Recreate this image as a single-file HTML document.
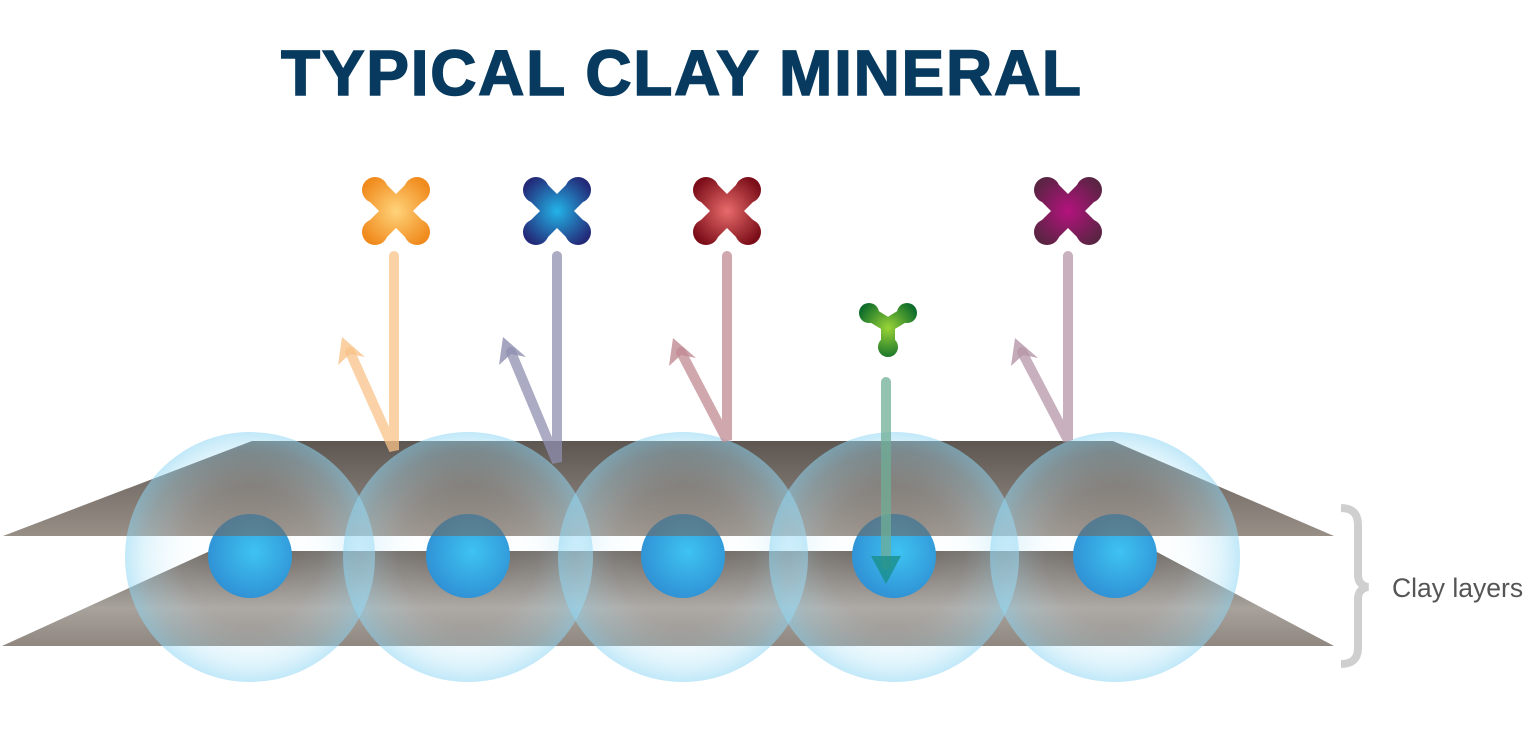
<!DOCTYPE html>
<html><head><meta charset="utf-8"><style>
html,body{margin:0;padding:0;background:#fff;width:1529px;height:733px;overflow:hidden}
</style></head><body>
<svg width="1529" height="733" viewBox="0 0 1529 733" xmlns="http://www.w3.org/2000/svg">
<defs>
  <linearGradient id="plate1" x1="0" y1="0" x2="0" y2="1">
    <stop offset="0" stop-color="#5d5651"/><stop offset="1" stop-color="#988f87"/>
  </linearGradient>
  <linearGradient id="plate2" x1="0" y1="0" x2="0" y2="1">
    <stop offset="0" stop-color="#6c645e"/><stop offset="0.6" stop-color="#a8a29c"/><stop offset="1" stop-color="#8f8780"/>
  </linearGradient>
  <radialGradient id="halo" cx="0.5" cy="0.5" r="0.5">
    <stop offset="0" stop-color="#ffffff" stop-opacity="0"/>
    <stop offset="0.55" stop-color="#d6f1fb" stop-opacity="0.12"/>
    <stop offset="0.85" stop-color="#a8e0f6" stop-opacity="0.35"/>
    <stop offset="1" stop-color="#8fd6f3" stop-opacity="0.55"/>
  </radialGradient>
  <radialGradient id="core" cx="0.55" cy="0.45" r="0.6">
    <stop offset="0" stop-color="#3ec3f2"/><stop offset="1" stop-color="#2f8fd3"/>
  </radialGradient>
  <radialGradient id="gOr"><stop offset="0" stop-color="#ffd37a"/><stop offset="1" stop-color="#f08a1c"/></radialGradient>
  <radialGradient id="gBl"><stop offset="0" stop-color="#23b4e8"/><stop offset="1" stop-color="#232a78"/></radialGradient>
  <radialGradient id="gRd"><stop offset="0" stop-color="#e86b6b"/><stop offset="1" stop-color="#7a0d18"/></radialGradient>
  <radialGradient id="gPu"><stop offset="0" stop-color="#b4127e"/><stop offset="1" stop-color="#5a2443"/></radialGradient>
  <radialGradient id="gGr"><stop offset="0" stop-color="#9ad436"/><stop offset="1" stop-color="#0a6a2a"/></radialGradient>
  <clipPath id="cores">
    <circle cx="250" cy="556" r="42"/><circle cx="468" cy="556" r="42"/><circle cx="683" cy="556" r="42"/><circle cx="894" cy="556" r="42"/><circle cx="1115" cy="556" r="42"/>
  </clipPath>
  <g id="xs">
    <line x1="-20" y1="-20" x2="20" y2="20" stroke="#fff" stroke-width="24" stroke-linecap="round"/>
    <line x1="20" y1="-20" x2="-20" y2="20" stroke="#fff" stroke-width="24" stroke-linecap="round"/>
    <circle cx="-21" cy="-21" r="13" fill="#fff"/><circle cx="21" cy="-21" r="13" fill="#fff"/>
    <circle cx="-21" cy="21" r="13" fill="#fff"/><circle cx="21" cy="21" r="13" fill="#fff"/>
  </g>
  <mask id="m1"><use href="#xs" x="396" y="211"/></mask>
  <mask id="m2"><use href="#xs" x="557" y="211"/></mask>
  <mask id="m3"><use href="#xs" x="727" y="211"/></mask>
  <mask id="m4"><use href="#xs" x="1068" y="211"/></mask>
  <mask id="m5"><g transform="translate(888,325)">
    <line x1="0" y1="0" x2="-18" y2="-11" stroke="#fff" stroke-width="14" stroke-linecap="round"/>
    <line x1="0" y1="0" x2="18" y2="-11" stroke="#fff" stroke-width="14" stroke-linecap="round"/>
    <line x1="0" y1="0" x2="0" y2="21" stroke="#fff" stroke-width="14" stroke-linecap="round"/>
    <circle cx="-19" cy="-12" r="10" fill="#fff"/><circle cx="19" cy="-12" r="10" fill="#fff"/><circle cx="0" cy="22" r="10" fill="#fff"/>
  </g></mask>
</defs>

<text x="281" y="95" font-family="Liberation Sans, Arial, sans-serif" font-weight="bold" font-size="64" fill="#073a5e" stroke="#073a5e" stroke-width="1.5" textLength="800" lengthAdjust="spacing">TYPICAL CLAY MINERAL</text>

<!-- molecules -->
<rect x="356" y="171" width="80" height="80" fill="url(#gOr)" mask="url(#m1)"/>
<rect x="517" y="171" width="80" height="80" fill="url(#gBl)" mask="url(#m2)"/>
<rect x="687" y="171" width="80" height="80" fill="url(#gRd)" mask="url(#m3)"/>
<rect x="1028" y="171" width="80" height="80" fill="url(#gPu)" mask="url(#m4)"/>
<rect x="855" y="295" width="66" height="66" fill="url(#gGr)" mask="url(#m5)"/>

<!-- plates -->
<polygon points="210,551 1155,551 1334,646 2,646" fill="url(#plate2)"/>
<polygon points="252,441 1113,441 1334,536 3,536" fill="url(#plate1)"/>

<!-- halos -->
<g>
<circle cx="250" cy="557" r="125" fill="url(#halo)"/>
<circle cx="468" cy="557" r="125" fill="url(#halo)"/>
<circle cx="683" cy="557" r="125" fill="url(#halo)"/>
<circle cx="894" cy="557" r="125" fill="url(#halo)"/>
<circle cx="1115" cy="557" r="125" fill="url(#halo)"/>
</g>
<!-- white gap glow between plates -->
<g>
<circle cx="250" cy="556" r="42" fill="url(#core)"/>
<circle cx="468" cy="556" r="42" fill="url(#core)"/>
<circle cx="683" cy="556" r="42" fill="url(#core)"/>
<circle cx="894" cy="556" r="42" fill="url(#core)"/>
<circle cx="1115" cy="556" r="42" fill="url(#core)"/>
</g>
<polygon points="252,441 1113,441 1334,536 3,536" fill="#6c6660" opacity="0.6" clip-path="url(#cores)"/>

<!-- arrows -->
<g stroke-width="10" stroke-linecap="round" fill="none" opacity="0.75">
  <path d="M394 256 V450 L350 352" stroke="#f9c389"/>
  <path d="M557 256 V462 L511 352" stroke="#8f8fb0"/>
  <path d="M727 256 V440 L681 352" stroke="#c08a92"/>
  <path d="M1068 256 V440 L1022 352" stroke="#b596a8"/>
  <path d="M886 382 V565" stroke="#6fae95"/>
</g>
<g opacity="0.8">
  <polygon points="342,337 365,357 350,354 338,365" fill="#f9c389"/>
  <polygon points="503,337 526,357 511,354 499,365" fill="#8f8fb0"/>
  <polygon points="673,338 696,358 681,355 669,366" fill="#c08a92"/>
  <polygon points="1015,338 1038,358 1023,355 1011,366" fill="#b596a8"/>
  <polygon points="871,556 901,556 886,584" fill="#1a8f8a"/>
</g>

<!-- brace -->
<path d="M1341 508 Q1358 508 1358 525 V575 Q1358 585 1368 587 Q1358 589 1358 599 V648 Q1358 664 1341 664" fill="none" stroke="#cfcfcf" stroke-width="8"/>
<text x="1392" y="597" font-family="Liberation Sans, Arial, sans-serif" font-size="26.5" fill="#555">Clay layers</text>
</svg>
</body></html>
